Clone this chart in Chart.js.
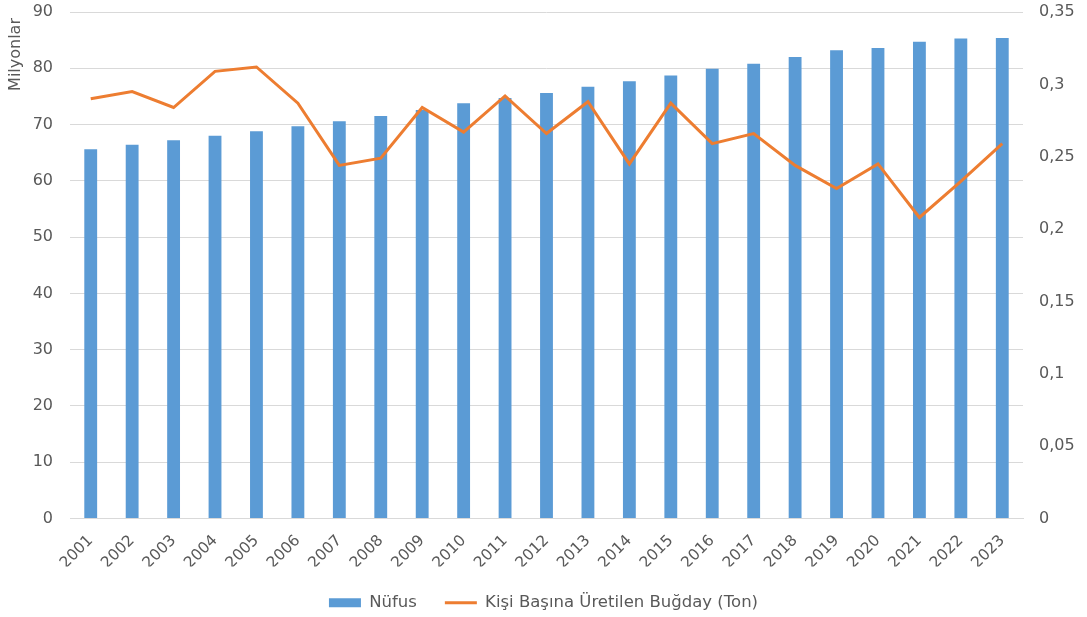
<!DOCTYPE html>
<html>
<head>
<meta charset="utf-8">
<script src="https://cdn.jsdelivr.net/npm/chart.js@4.4.0/dist/chart.umd.min.js"></script>
<style>
  html, body { margin: 0; padding: 0; background: #fff; }
  #wrap { width: 1087px; height: 617px; position: relative; }
</style>
</head>
<body>
<div id="wrap"><canvas id="myChart"></canvas></div>
<script>
const years = ['2001','2002','2003','2004','2005','2006','2007','2008','2009','2010','2011','2012',
  '2013','2014','2015','2016','2017','2018','2019','2020','2021','2022','2023'];
const nufus = [65.6, 66.4, 67.2, 68.0, 68.8, 69.7, 70.6, 71.5, 72.6, 73.8, 74.7, 75.6,
  76.7, 77.7, 78.7, 79.9, 80.8, 82.0, 83.2, 83.6, 84.7, 85.3, 85.4];
const bugday = [0.290, 0.295, 0.284, 0.309, 0.312, 0.287, 0.244, 0.249, 0.284, 0.267, 0.292, 0.266,
  0.288, 0.245, 0.287, 0.259, 0.266, 0.244, 0.228, 0.245, 0.208, 0.233, 0.259];
const leftTitle = 'Milyonlar';

const gray = '#595959';
const fontFam = '"DejaVu Sans", sans-serif';

// y ekseni basligi ustte duruyor, elle ciziyoruz
const axisTitle = {
  id: 'axisTitle',
  afterDraw(chart) {
    const ctx = chart.ctx;
    ctx.save();
    ctx.translate(16, 18);
    ctx.rotate(-Math.PI / 2);
    ctx.font = '16px ' + fontFam;
    ctx.fillStyle = gray;
    ctx.textAlign = 'right';
    ctx.textBaseline = 'middle';
    ctx.fillText(leftTitle, 0, 0);
    ctx.restore();
  }
};

// eksen genisliklerini sabitle, ust bosluk olmasin
const fixY = w => s => { s.width = w; s.paddingTop = 0; s.paddingBottom = 0; };

let canva = document.getElementById('myChart').getContext('2d');
let data2 = {
  labels: years,
  datasets: [
    {
      type: 'line',
      label: 'Kişi Başına Üretilen Buğday (Ton)',
      data: bugday,
      yAxisID: 'y1',
      borderColor: '#ED7D31',
      backgroundColor: '#ED7D31',
      borderWidth: 3,
      pointRadius: 0,
      tension: 0,
      pointStyle: 'line',
      order: 0
    },
    {
      type: 'bar',
      label: 'Nüfus',
      data: nufus,
      yAxisID: 'y',
      backgroundColor: '#5B9BD5',
      borderWidth: 0,
      barPercentage: 0.62,
      categoryPercentage: 0.5,
      pointStyle: 'rect',
      order: 1
    }
  ]
};

let config = {
  data: data2,
  options: {
    responsive: true,
    maintainAspectRatio: false,
    animation: false,
    layout: { padding: { top: 12, bottom: -4 } },
    plugins: {
      legend: {
        position: 'bottom',
        reverse: true,
        labels: {
          color: gray,
          font: { family: fontFam, size: 16.5 },
          usePointStyle: true,
          pointStyleWidth: 32,
          boxHeight: 9,
          padding: 28
        }
      },
      tooltip: { enabled: false }
    },
    scales: {
      x: {
        grid: { display: false },
        border: { color: '#d9d9d9' },
        ticks: {
          color: gray,
          font: { family: fontFam, size: 15.5 },
          minRotation: 45,
          maxRotation: 45,
          padding: 5
        },
        afterFit: s => { s.height = 48; }
      },
      y: {
        position: 'left',
        min: 0,
        max: 90,
        ticks: {
          stepSize: 10,
          color: gray,
          font: { family: fontFam, size: 16 },
          padding: 17
        },
        grid: { color: '#d9d9d9', drawTicks: false },
        border: { display: false },
        afterFit: fixY(70)
      },
      y1: {
        position: 'right',
        min: 0,
        max: 0.35,
        ticks: {
          stepSize: 0.05,
          color: gray,
          font: { family: fontFam, size: 16 },
          padding: 16,
          callback: v => String(+v.toFixed(2)).replace('.', ',')
        },
        grid: { drawOnChartArea: false, drawTicks: false },
        border: { display: false },
        afterFit: fixY(64)
      }
    }
  },
  plugins: [axisTitle]
};

window.grafica = new Chart(canva, config);
</script>
</body>
</html>
